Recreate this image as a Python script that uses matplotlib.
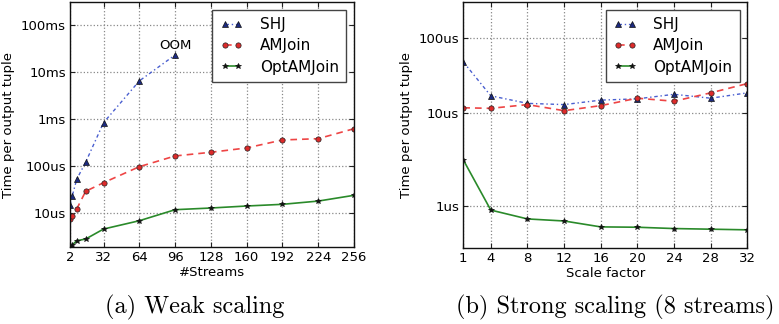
import numpy as np
import matplotlib
matplotlib.use("Agg")
import matplotlib.pyplot as plt
from matplotlib.ticker import FixedLocator, FixedFormatter, NullLocator

# ---------------- data (values in microseconds) ----------------
weak_x = [2, 4, 8, 16, 32, 64, 96, 128, 160, 192, 224, 256]
weak_shj_x = [2, 4, 8, 16, 32, 64, 96]
weak_shj = [14.6, 22.7, 51.5, 119, 830, 6430, 23000]
weak_amjoin = [7.3, 8.5, 12.0, 28.6, 43.6, 95.7, 162, 194, 240, 355, 378, 617]
weak_opt = [1.88, 2.05, 2.53, 2.75, 4.49, 6.75, 11.6, 12.6, 13.9, 15.1, 17.7, 23.5]

strong_x = [1, 4, 8, 12, 16, 20, 24, 28, 32]
strong_shj = [47.9, 16.9, 13.4, 12.9, 14.8, 15.4, 17.7, 15.7, 18.5]
strong_amjoin = [11.7, 11.5, 12.9, 10.7, 12.5, 15.7, 14.3, 18.5, 24.6]
strong_opt = [3.13, 0.906, 0.728, 0.692, 0.598, 0.593, 0.574, 0.565, 0.556]

weak_xticks = [2, 32, 64, 96, 128, 160, 192, 224, 256]
weak_yticks = [10, 100, 1000, 10000, 100000]
weak_ylabels = ["10us", "100us", "1ms", "10ms", "100ms"]
strong_xticks = [1, 4, 8, 12, 16, 20, 24, 28, 32]
strong_yticks = [1, 10, 100]
strong_ylabels = ["1us", "10us", "100us"]

series_names = ["SHJ", "AMJoin", "OptAMJoin"]
captions = ["(a) Weak scaling", "(b) Strong scaling (8 streams)"]

# ---------------- styling ----------------
plt.rcParams["font.family"] = ["DejaVu Sans"]
plt.rcParams["xtick.direction"] = "in"
plt.rcParams["ytick.direction"] = "in"

fig = plt.figure(figsize=(7.79, 3.24), dpi=100)
W, H = 779.0, 324.0
ax1 = fig.add_axes([70 / W, 1 - 247 / H, 284 / W, 245 / H])
ax2 = fig.add_axes([463.3 / W, 1 - 248 / H, 284 / W, 246 / H])

styles = [
    dict(color="#4a5fd0", linestyle=(0, (2.5, 2, 1, 2)), linewidth=1.0, marker="^",
         markersize=3.8, markerfacecolor="#1c2a80", markeredgecolor="#111111",
         markeredgewidth=0.5),
    dict(color="#ee4545", linestyle=(0, (4, 3)), linewidth=1.2, marker="o", markersize=3.8,
         markerfacecolor="#dd2a2a", markeredgecolor="#222222", markeredgewidth=0.5),
    dict(color="#2a8a2a", linestyle="-", linewidth=1.2, marker="*", markersize=3.8,
         markerfacecolor="#111111", markeredgecolor="#111111", markeredgewidth=0.5),
]

# Left panel
ax1.plot(weak_shj_x, weak_shj, label=series_names[0], **styles[0])
ax1.plot(weak_x, weak_amjoin, label=series_names[1], **styles[1])
ax1.plot(weak_x, weak_opt, label=series_names[2], **styles[2])
ax1.set_yscale("log")
ax1.set_xlim(2, 256)
ax1.set_ylim(1.86, 3.09e5)
ax1.annotate("OOM", (weak_shj_x[-1], weak_shj[-1]), xytext=(0, 2),
             textcoords="offset points", ha="center", va="bottom", fontsize=9.5)

# Right panel: piecewise log scale (matches reference spacing)
k = 75.0 / 93.3


def fwd(v):
    l = np.log10(np.maximum(np.asarray(v, dtype=float), 1e-12))
    return np.where(l <= 1, l, 1 + (l - 1) * k)


def inv(t):
    t = np.asarray(t, dtype=float)
    return np.where(t <= 1, 10 ** t, 10 ** (1 + (t - 1) / k))


ax2.plot(strong_x, strong_shj, label=series_names[0], **styles[0])
ax2.plot(strong_x, strong_amjoin, label=series_names[1], **styles[1])
ax2.plot(strong_x, strong_opt, label=series_names[2], **styles[2])
ax2.set_yscale("function", functions=(fwd, inv))
ax2.set_xlim(1, 32)
ax2.set_ylim(0.355, 302)

for ax, xt, yt, yl, xlab in [
    (ax1, weak_xticks, weak_yticks, weak_ylabels, "#Streams"),
    (ax2, strong_xticks, strong_yticks, strong_ylabels, "Scale factor"),
]:
    ax.xaxis.set_major_locator(FixedLocator(xt))
    ax.set_xticklabels([str(v) for v in xt])
    ax.yaxis.set_major_locator(FixedLocator(yt))
    ax.yaxis.set_major_formatter(FixedFormatter(yl))
    ax.yaxis.set_minor_locator(NullLocator())
    ax.xaxis.set_minor_locator(NullLocator())
    ax.tick_params(axis="both", which="major", labelsize=9.5, length=3.5, width=0.8,
                   top=True, right=True, color="#222222", pad=3)
    ax.grid(True, which="major", linestyle=":", color="#888888", linewidth=0.9)
    ax.set_xlabel(xlab, fontsize=9.5, labelpad=1)
    ax.set_ylabel("Time per output tuple", fontsize=9.5, labelpad=4)
    for s in ax.spines.values():
        s.set_linewidth(1.0)
        s.set_color("#111111")
    leg = ax.legend(loc="upper right", fontsize=11, numpoints=2, handlelength=1.5,
                    handletextpad=1.1, borderaxespad=0.5, labelspacing=0.4,
                    fancybox=False, framealpha=1.0, borderpad=0.5)
    leg.get_frame().set_edgecolor("#444444")
    leg.get_frame().set_linewidth(1.0)

fig.text(195 / W, 1 - 307 / H, captions[0], ha="center", va="center",
         fontsize=17.5, family="cmr10")
fig.text(615 / W, 1 - 307 / H, captions[1], ha="center", va="center",
         fontsize=17.5, family="cmr10")

fig.savefig("out.png", dpi=100)
